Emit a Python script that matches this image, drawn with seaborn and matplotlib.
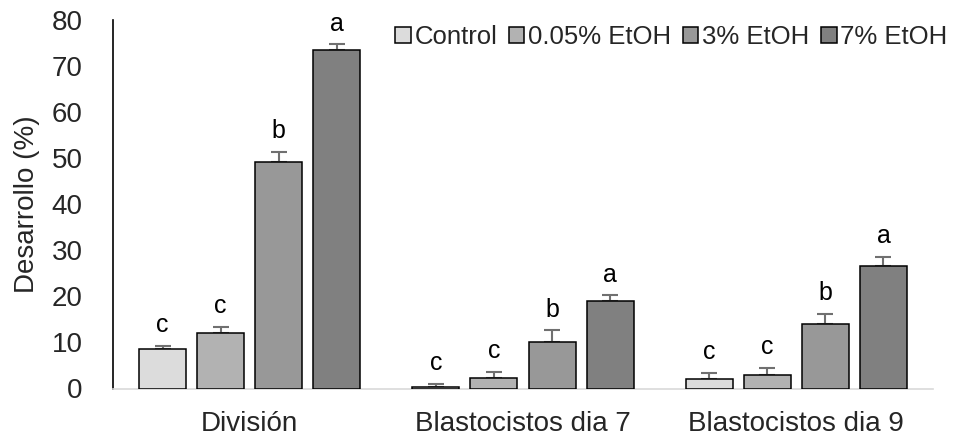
import numpy as np
import pandas as pd
import matplotlib
matplotlib.use("Agg")
import matplotlib.pyplot as plt
import seaborn as sns

categories = ["División", "Blastocistos dia 7", "Blastocistos dia 9"]
treatments = ["Control", "0.05% EtOH", "3% EtOH", "7% EtOH"]
values = {
    "Control":    [8.5, 0.4, 2.0],
    "0.05% EtOH": [12.1, 2.3, 3.0],
    "3% EtOH":    [49.2, 10.2, 14.0],
    "7% EtOH":    [73.4, 19.0, 26.7],
}
errors = {
    "Control":    [0.8, 0.5, 1.4],
    "0.05% EtOH": [1.2, 1.2, 1.5],
    "3% EtOH":    [2.1, 2.4, 2.1],
    "7% EtOH":    [1.3, 1.2, 1.9],
}
letters = {
    "Control":    ["c", "c", "c"],
    "0.05% EtOH": ["c", "c", "c"],
    "3% EtOH":    ["b", "b", "b"],
    "7% EtOH":    ["a", "a", "a"],
}
colors = ["#dcdcdc", "#b2b2b2", "#989898", "#808080"]
yticks = [0, 10, 20, 30, 40, 50, 60, 70, 80]

rows = []
for t in treatments:
    for c, v in zip(categories, values[t]):
        rows.append({"cat": c, "trt": t, "val": v})
df = pd.DataFrame(rows)

sns.set_style("white")
plt.rcParams["font.family"] = ["Liberation Sans", "DejaVu Sans"]

fig = plt.figure(figsize=(9.65, 4.41), dpi=100)
ax = fig.add_axes([113 / 965, (441 - 388.5) / 441, (933 - 113) / 965, (388.5 - 20) / 441])

sns.barplot(data=df, x="cat", y="val", hue="trt", hue_order=treatments,
            order=categories, palette=colors, edgecolor="black", linewidth=1.1,
            width=0.85, gap=0.19, errorbar=None, ax=ax, zorder=3)

for cont, t in zip(ax.containers, treatments):
    xs = [p.get_x() + p.get_width() / 2 for p in cont]
    ys = [p.get_height() for p in cont]
    errs = errors[t]
    ax.errorbar(xs, ys, yerr=[np.zeros(len(errs)), errs], fmt="none",
                ecolor="#707070", elinewidth=1.5, capsize=6, capthick=1.5, zorder=2)
    for x, y, e, lab in zip(xs, ys, errs, letters[t]):
        ax.annotate(lab, (x, y + e), xytext=(0, 10), textcoords="offset points",
                    ha="center", va="baseline", fontsize=18, color="black")

ax.set_xlim(-0.5, 2.5)
ax.set_ylim(0, 80)
ax.set_yticks(yticks)
ax.set_yticklabels([str(v) for v in yticks])
ax.tick_params(axis="y", length=0, pad=22, labelsize=20)
ax.tick_params(axis="x", length=0, pad=16, labelsize=20)
ax.set_xlabel("")
ax.set_ylabel("Desarrollo (%)", fontsize=20, labelpad=8)

for s in ["top", "right"]:
    ax.spines[s].set_visible(False)
ax.spines["left"].set_color("black")
ax.spines["left"].set_linewidth(1.2)
ax.spines["bottom"].set_color("#d9d9d9")
ax.spines["bottom"].set_linewidth(1.2)

handles, labels = ax.get_legend_handles_labels()
if ax.get_legend() is not None:
    ax.get_legend().remove()
fig.legend(handles, labels, loc="center", bbox_to_anchor=(671.5 / 965, (441 - 37) / 441),
           ncol=4, frameon=False, fontsize=18.5, handlelength=0.6, handleheight=0.6,
           handletextpad=0.15, columnspacing=0.45, borderpad=0)

fig.savefig("out.png", dpi=100)
